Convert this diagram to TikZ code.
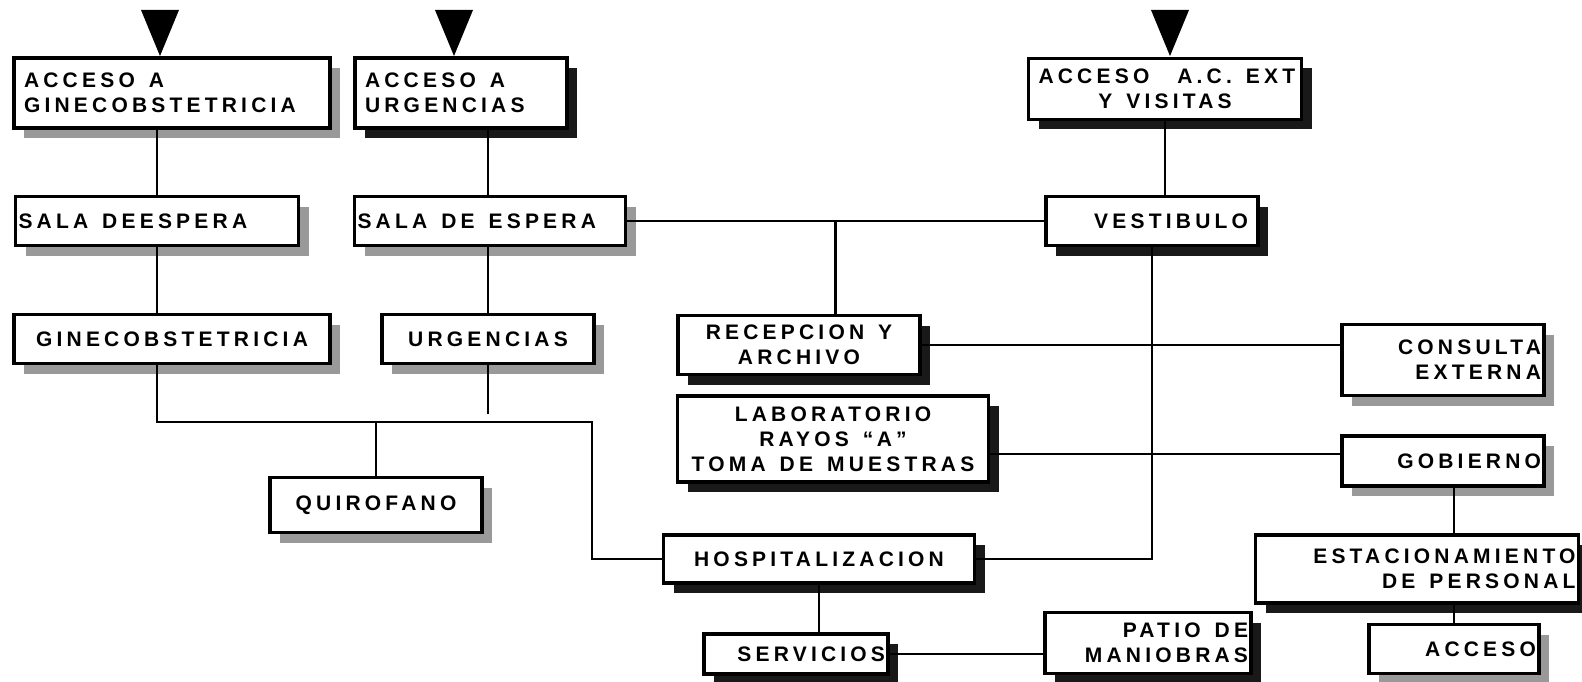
\documentclass[tikz,border=0pt]{standalone}
\usepackage{fontspec}
\newfontfamily\roomfont[LetterSpace=20]{Liberation Sans}
\newcommand\wgap{\hspace{14pt}}
\usetikzlibrary{shadows, calc}

\begin{document}
\begin{tikzpicture}[
			x=1pt, y=-1pt,
			room/.style={rectangle, draw=black, line width=3.3pt, fill=white,
				inner xsep=10pt, inner ysep=4pt,
				font=\roomfont\bfseries\fontsize{21}{25}\selectfont},
			flush/.style={inner xsep=3pt},
			shade dark/.style={drop shadow={shadow xshift=10pt, shadow yshift=-10pt, fill=black!90, opacity=1}},
			shade light/.style={drop shadow={shadow xshift=10pt, shadow yshift=-10pt, fill=black!40, opacity=1}},
			link/.style={draw=black, line width=2.8pt},
			entry/.style={fill=black}
			]
			\useasboundingbox (0,0) rectangle (1582,682);
			
			% entrances
			\foreach \xx in {160,454,1170}
				\fill[entry] (\xx-19,10) -- (\xx+19,10) -- (\xx,56) -- cycle;
			
			\node[room, shade light, text width=296, minimum height=70, align=left] (accgine) at (172,93) {ACCESO\wgap A\\GINECOBSTETRICIA};
			\node[room, shade dark, text width=192, minimum height=70, align=left] (accurg) at (461,93) {ACCESO\wgap A\\URGENCIAS};
			\node[room, shade dark, text width=253, minimum height=61, align=center] (accext) at (1165,89) {ACCESO\wgap\wgap A.C.\wgap EXT\\Y\wgap VISITAS};
			
			\node[room, shade light, text width=277, minimum height=49, align=left, flush] (salagine) at (157,221) {SALA\wgap DEESPERA};
			\node[room, shade light, text width=265, minimum height=49, align=left, flush] (salaurg) at (490,221) {SALA\wgap DE\wgap ESPERA};
			\node[room, shade dark, text width=192, minimum height=49, align=right] (vest) at (1152,221) {VESTIBULO};
			
			\node[room, shade light, text width=296, minimum height=49, align=center] (gine) at (172,339) {GINECOBSTETRICIA};
			\node[room, shade light, text width=192, minimum height=49, align=center] (urg) at (488,339) {URGENCIAS};
			\node[room, shade dark, text width=222, minimum height=59, align=center] (recep) at (799,345) {RECEPCION\wgap Y\\ARCHIVO};
			\node[room, shade light, text width=196, minimum height=71, align=right, flush] (consulta) at (1443,360) {CONSULTA\\EXTERNA};
			
			\node[room, shade dark, text width=305, minimum height=86, align=center, flush] (lab) at (833,439) {LABORATORIO\\RAYOS\wgap “\,A”\\TOMA\wgap DE\wgap MUESTRAS};
			\node[room, shade light, text width=196, minimum height=50, align=right, flush] (gob) at (1443,461) {GOBIERNO};
			\node[room, shade light, text width=192, minimum height=55, align=center] (quir) at (376,505) {QUIROFANO};
			
			\node[room, shade dark, text width=291, minimum height=48, align=center] (hosp) at (819,559) {HOSPITALIZACION};
			\node[room, shade dark, text width=317, minimum height=68, align=right, flush] (estac) at (1417,569) {ESTACIONAMIENTO\\DE\wgap PERSONAL};
			\node[room, shade dark, text width=200, minimum height=61, align=right, flush] (patio) at (1148,643) {PATIO\wgap DE\\MANIOBRAS};
			\node[room, shade dark, text width=178, minimum height=40, align=right, flush] (serv) at (796,654) {SERVICIOS};
			\node[room, shade light, text width=164, minimum height=49, align=right, flush] (acceso) at (1454,649) {ACCESO};
			
			% connections
			\coordinate (junc) at (592,422);
			\coordinate (urgend) at (488,414);
			
			\draw[link] (salagine.north |- accgine.south) -- (salagine.north);
			\draw[link] (salagine.south) -- (salagine.south |- gine.north);
			\draw[link] (salagine.south |- gine.south) -- (salagine.south |- junc) -- (junc) -- (junc |- hosp.west) -- (hosp.west);
			\draw[link] (urg.south) -- (urgend);
			\draw[link] (quir.north) -- (quir.north |- junc);
			
			\draw[link] (accurg.south -| urg.south) -- (salaurg.north -| urg.south);
			\draw[link] (salaurg.south -| urg.north) -- (urg.north);
			\draw[link] (salaurg.east) -- coordinate (recepjunc) (vest.west);
			\draw[link] (recep.north -| recepjunc) -- (recepjunc);
			
			\draw[link] (accext.south) -- (accext.south |- vest.north);
			\draw[link] (vest.south) -- (vest.south |- hosp.east) -- (hosp.east);
			\draw[link] (recep.east) -- (recep.east -| consulta.west);
			\draw[link] ([yshift=-15pt]lab.east) -- ([yshift=-15pt]lab.east -| gob.west);
			
			\draw[link] (gob.south -| acceso.north) -- (estac.north -| acceso.north);
			\draw[link] (estac.south -| acceso.north) -- (acceso.north);
			\draw[link] (hosp.south) -- (hosp.south |- serv.north);
			\draw[link] (serv.east) -- (serv.east -| patio.west);
		\end{tikzpicture}
\end{document}
